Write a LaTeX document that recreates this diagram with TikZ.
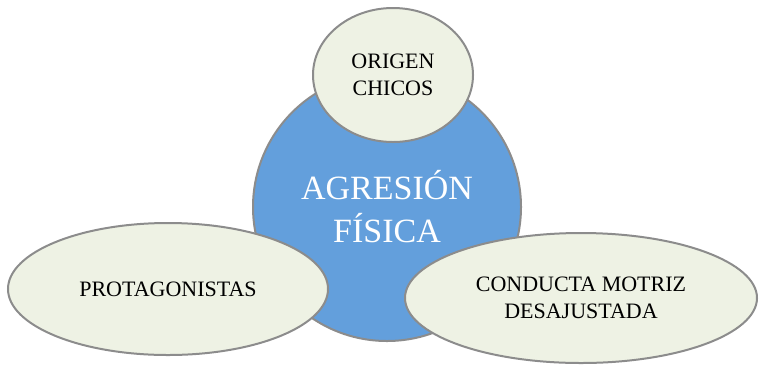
\documentclass[tikz,border=0pt]{standalone}
\usepackage{fontspec}
\setmainfont{Liberation Serif}
\usetikzlibrary{shapes.geometric}

\definecolor{coreblue}{RGB}{99,159,220}
\definecolor{leafgreen}{RGB}{238,242,228}
\definecolor{rimgray}{RGB}{140,140,140}

\begin{document}
\begin{tikzpicture}[
  x=1pt, y=-1pt,
  core/.style={circle, draw=rimgray, line width=2pt, fill=coreblue, inner sep=0pt,
               minimum size=268pt, align=center, text=white,
               font=\fontsize{34}{43}\selectfont},
  leaf/.style={ellipse, draw=rimgray, line width=2pt, fill=leafgreen, inner sep=0pt,
               align=center, font=\fontsize{22}{27}\selectfont},
]
  \useasboundingbox (0,0) rectangle (759,365);

  % Centre
  \node[core] (agresion) at (387,207) {AGRESIÓN\\FÍSICA};

  % Satellites
  \node[leaf, minimum width=160pt, minimum height=134pt] (origen) at (393,75) {ORIGEN\\CHICOS};
  \node[leaf, minimum width=320pt, minimum height=132pt] (protag) at (168,289) {PROTAGONISTAS};
  \node[leaf, minimum width=352pt, minimum height=130pt] (conducta) at (581,298) {CONDUCTA MOTRIZ\\DESAJUSTADA};
\end{tikzpicture}
\end{document}
